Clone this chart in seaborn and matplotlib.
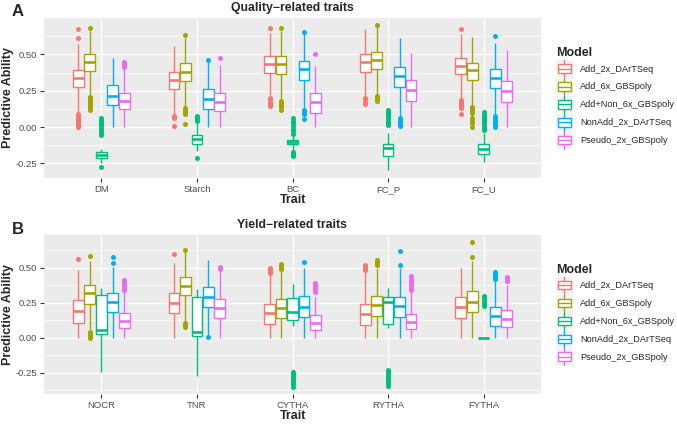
import numpy as np
import pandas as pd
import matplotlib
matplotlib.use("Agg")
import matplotlib.pyplot as plt
import seaborn as sns
from matplotlib.lines import Line2D
from matplotlib.patches import Patch, Rectangle
from matplotlib.legend_handler import HandlerBase
from matplotlib.ticker import FixedLocator, FormatStrFormatter

# ---- Daten ----
models = ["Add_2x_DArTSeq", "Add_6x_GBSpoly", "Add+Non_6x_GBSpoly",
          "NonAdd_2x_DArTSeq", "Pseudo_2x_GBSpoly"]
colors = ["#F8766D", "#A3A500", "#00BF7D", "#00B0F6", "#E76BF3"]

traits_quality = ["DM", "Starch", "BC", "FC_P", "FC_U"]
traits_yield = ["NOCR", "TNR", "CYTHA", "RYTHA", "FYTHA"]
y_ticks = [-0.25, 0.0, 0.25, 0.50]
y_minor = [-0.375, -0.125, 0.125, 0.375, 0.625]

# Zeilen = Merkmale, Spalten = Modelle
q1_quality = [[0.275, 0.385, -0.211, 0.149, 0.122],
              [0.259, 0.317, -0.115, 0.126, 0.110],
              [0.374, 0.367, -0.119, 0.323, 0.099],
              [0.381, 0.397, -0.200, 0.275, 0.179],
              [0.362, 0.321, -0.183, 0.271, 0.174]]
med_quality = [[0.339, 0.450, -0.190, 0.216, 0.179],
               [0.323, 0.381, -0.085, 0.190, 0.174],
               [0.436, 0.436, -0.103, 0.397, 0.172],
               [0.447, 0.461, -0.147, 0.349, 0.257],
               [0.422, 0.390, -0.149, 0.339, 0.248]]
q3_quality = [[0.394, 0.500, -0.172, 0.287, 0.236],
              [0.381, 0.438, -0.055, 0.259, 0.236],
              [0.489, 0.489, -0.092, 0.454, 0.234],
              [0.500, 0.514, -0.115, 0.413, 0.326],
              [0.477, 0.440, -0.119, 0.397, 0.317]]
lo_quality = [[0.097, 0.213, -0.245, 0.000, 0.000],
              [0.080, 0.144, -0.165, 0.000, 0.000],
              [0.202, 0.184, -0.155, 0.133, 0.000],
              [0.206, 0.222, -0.296, 0.069, 0.000],
              [0.190, 0.144, -0.241, 0.082, 0.000]]
hi_quality = [[0.569, 0.660, -0.150, 0.477, 0.407],
              [0.557, 0.615, 0.030, 0.455, 0.425],
              [0.649, 0.660, -0.055, 0.638, 0.420],
              [0.672, 0.685, -0.040, 0.610, 0.511],
              [0.642, 0.618, -0.039, 0.580, 0.530]]
out_quality = [
    [[0.615, 0.674, 0.0, 0.01, 0.02, 0.03, 0.04, 0.05, 0.06, 0.07, 0.08, 0.09],
     [0.68, 0.12, 0.13, 0.14, 0.15, 0.16, 0.17, 0.18, 0.19, 0.20, 0.21],
     [-0.272, -0.055, -0.04, -0.025, -0.01, 0.005, 0.02, 0.035, 0.05, 0.064],
     [],
     [0.41, 0.42, 0.43, 0.44, 0.447]],
    [[0.007, 0.065, 0.07, 0.074],
     [0.633, 0.018, 0.087, 0.095, 0.105, 0.115, 0.125, 0.13],
     [-0.21, 0.04, 0.05, 0.06, 0.07, 0.076],
     [0.461],
     [0.477]],
    [[0.683, 0.145, 0.16, 0.175, 0.19, 0.2],
     [0.683, 0.12, 0.135, 0.15, 0.165, 0.18],
     [-0.2, -0.19, -0.18, -0.17, -0.048, -0.03, -0.01, 0.01, 0.03, 0.045, 0.06],
     [0.656, 0.053, 0.087, 0.1, 0.11, 0.12],
     [0.5]],
    [[0.16, 0.175, 0.19, 0.2],
     [0.70, 0.18, 0.19, 0.2, 0.215],
     [0.015, 0.03, 0.045, 0.06, 0.075, 0.09, 0.105, 0.12],
     [0.007, 0.02, 0.035, 0.05, 0.06],
     []],
    [[0.672, 0.092, 0.133, 0.145, 0.16, 0.175, 0.185],
     [0.0, 0.03, 0.045, 0.064, 0.099, 0.11, 0.125, 0.14],
     [-0.02, -0.005, 0.01, 0.025, 0.04, 0.055, 0.07, 0.085, 0.106],
     [0.628, 0.0, 0.015, 0.03, 0.045, 0.06, 0.076],
     []],
]

q1_yield = [[0.110, 0.246, 0.028, 0.185, 0.068],
            [0.178, 0.305, 0.014, 0.221, 0.141],
            [0.103, 0.141, 0.127, 0.150, 0.059],
            [0.094, 0.155, 0.100, 0.148, 0.061],
            [0.143, 0.183, 0.000, 0.085, 0.077]]
med_yield = [[0.192, 0.322, 0.059, 0.258, 0.122],
             [0.251, 0.373, 0.040, 0.293, 0.216],
             [0.176, 0.216, 0.185, 0.221, 0.108],
             [0.171, 0.235, 0.258, 0.225, 0.113],
             [0.223, 0.258, 0.000, 0.155, 0.136]]
q3_yield = [[0.268, 0.380, 0.310, 0.322, 0.176],
            [0.322, 0.434, 0.293, 0.364, 0.279],
            [0.246, 0.279, 0.286, 0.298, 0.164],
            [0.246, 0.300, 0.289, 0.293, 0.171],
            [0.293, 0.333, 0.000, 0.218, 0.202]]
lo_yield = [[0.000, 0.052, -0.242, 0.000, 0.000],
            [0.000, 0.122, -0.270, 0.016, 0.000],
            [0.000, 0.000, 0.087, 0.000, 0.000],
            [0.000, 0.000, 0.070, 0.000, 0.000],
            [0.000, 0.000, 0.000, 0.000, 0.000]]
hi_yield = [[0.486, 0.549, 0.357, 0.509, 0.338],
            [0.538, 0.615, 0.352, 0.556, 0.480],
            [0.450, 0.479, 0.387, 0.502, 0.293],
            [0.474, 0.500, 0.359, 0.500, 0.336],
            [0.500, 0.547, 0.000, 0.417, 0.376]]
out_yield = [
    [[0.563], [0.587, 0.0, 0.01, 0.02, 0.03, 0.04], [], [0.533, 0.58],
     [0.345, 0.36, 0.375, 0.39, 0.405, 0.415]],
    [[0.596], [0.63, 0.075, 0.085, 0.095, 0.11], [], [0.005], [0.49, 0.5, 0.509]],
    [[0.465, 0.475, 0.485, 0.495, 0.502], [0.49, 0.5, 0.51, 0.52, 0.526],
     [-0.347, -0.33, -0.315, -0.3, -0.285, -0.27, -0.255, -0.242], [0.545],
     [0.325, 0.34, 0.355, 0.37, 0.385, 0.392]],
    [[0.484, 0.495, 0.505, 0.515, 0.523], [0.52, 0.53, 0.54, 0.55, 0.559],
     [-0.345, -0.33, -0.315, -0.3, -0.285, -0.27, -0.255, -0.24, -0.228],
     [0.523, 0.622], [0.343, 0.36, 0.375, 0.39, 0.405, 0.42, 0.441]],
    [[], [0.577, 0.683], [0.23, 0.245, 0.26, 0.275, 0.29, 0.30],
     [0.42, 0.435, 0.45, 0.46, 0.472], [0.406, 0.415, 0.425, 0.437]],
]


def box_sample(q1, med, q3, lo, hi, out):
    # Stichprobe bauen, deren Quartile genau q1/med/q3 sind
    iqr = q3 - q1
    lo = max(lo, q1 - 1.5 * iqr)
    hi = min(hi, q3 + 1.5 * iqr)
    low = sorted(o for o in out if o < q1)
    high = sorted(o for o in out if o > q3)
    m = max(len(low), len(high)) + 2
    x = [q1] * m + [q1] + [med] * (m - 1) + [med] + [q3] * (m - 1) + [q3] + [q3] * m
    x[:len(low)] = low
    x[len(low)] = lo
    x[4 * m - len(high)] = hi
    if high:
        x[4 * m - len(high) + 1:] = high
    return x


def build_frame(traits, q1, med, q3, lo, hi, out):
    rows = []
    for i, t in enumerate(traits):
        for j, mdl in enumerate(models):
            for v in box_sample(q1[i][j], med[i][j], q3[i][j], lo[i][j], hi[i][j], out[i][j]):
                rows.append({"Trait": t, "Model": mdl, "value": v})
    return pd.DataFrame(rows)


class BoxKey(HandlerBase):
    # Legendenschluessel im ggplot-Stil: kleine Box mit Median und Whiskern
    def create_artists(self, legend, orig_handle, xdescent, ydescent,
                       width, height, fontsize, trans):
        c = orig_handle.get_edgecolor()
        x0, y0 = -xdescent, -ydescent
        bg = Rectangle((x0, y0), width, height, facecolor="#F2F2F2",
                       edgecolor="none", transform=trans)
        xm = x0 + width / 2
        w1 = Line2D([xm, xm], [y0 + height * 0.75, y0 + height], color=c, lw=1.0, transform=trans)
        w2 = Line2D([xm, xm], [y0, y0 + height * 0.25], color=c, lw=1.0, transform=trans)
        bx = Rectangle((x0 + width * 0.1, y0 + height * 0.25), width * 0.8, height * 0.5,
                       facecolor="white", edgecolor=c, lw=1.0, transform=trans)
        md = Line2D([x0 + width * 0.1, x0 + width * 0.9], [y0 + height / 2] * 2,
                    color=c, lw=1.0, transform=trans)
        return [bg, w1, w2, bx, md]


sns.set_theme(style="darkgrid", rc={"axes.facecolor": "#EBEBEB", "grid.color": "white"})
plt.rcParams["font.family"] = ["Liberation Sans", "DejaVu Sans"]
plt.rcParams["axes.unicode_minus"] = False

W, H = 677, 425
fig = plt.figure(figsize=(W / 100, H / 100), dpi=100)


def fx(px):
    return px / W


def fy(py):
    return 1 - py / H


def draw_panel(top, bottom, traits, q1, med, q3, lo, hi, out, ylim, letter, title):
    ax = fig.add_axes([fx(44), fy(bottom), fx(541) - fx(44), fy(top) - fy(bottom)])
    df = build_frame(traits, q1, med, q3, lo, hi, out)
    sns.boxplot(data=df, x="Trait", y="value", hue="Model", order=traits,
                hue_order=models, palette=colors, width=0.6, gap=0.06,
                showcaps=False, linewidth=1.0, legend=False,
                flierprops=dict(marker="o", markersize=3.6),
                medianprops=dict(linewidth=1.9), ax=ax)
    for cont, col in zip(ax.containers, colors):
        for b in cont.boxes:
            b.set_facecolor("white")
            b.set_edgecolor(col)
        for ln in list(cont.medians) + list(cont.whiskers):
            ln.set_color(col)
        for f in cont.fliers:
            f.set_markerfacecolor(col)
            f.set_markeredgecolor(col)
            f.set_markeredgewidth(0)
    ax.set_xlim(-0.6, len(traits) - 0.4)
    ax.set_ylim(*ylim)
    ax.yaxis.set_major_locator(FixedLocator(y_ticks))
    ax.yaxis.set_minor_locator(FixedLocator(y_minor))
    ax.yaxis.set_major_formatter(FormatStrFormatter("%.2f"))
    ax.grid(True, which="major", color="white", lw=1.0)
    ax.grid(True, which="minor", axis="y", color="white", lw=0.5)
    ax.set_axisbelow(True)
    for s in ax.spines.values():
        s.set_visible(False)
    ax.tick_params(axis="both", which="major", bottom=True, left=True, length=3,
                   width=0.8, color="#333333", labelcolor="#4D4D4D", labelsize=6.8, pad=2)
    ax.tick_params(axis="y", which="minor", left=False)
    ax.set_xlabel("")
    ax.set_ylabel("")
    mid = (top + bottom) / 2
    fig.text(fx(8), fy(mid), "Predictive Ability", rotation=90, ha="center",
             va="center", fontsize=9, fontweight="bold")
    fig.text(fx(293), fy(bottom + 22), "Trait", ha="center", va="center",
             fontsize=9, fontweight="bold")
    fig.text(fx(292), fy(top - 10), title, ha="center", va="center",
             fontsize=8.8, fontweight="bold")
    fig.text(fx(18), fy(top - 6), letter, ha="center", va="center",
             fontsize=12, fontweight="bold")
    handles = [Patch(facecolor="white", edgecolor=c) for c in colors]
    leg = fig.legend(handles, models, loc="center left",
                     bbox_to_anchor=(fx(556), fy(mid)), frameon=False,
                     title="Model", fontsize=6.6, handler_map={Patch: BoxKey()},
                     handlelength=1.85, handleheight=2.47, labelspacing=0.1,
                     handletextpad=0.8, borderpad=0, borderaxespad=0,
                     alignment="left")
    leg.get_title().set_fontsize(9)
    leg.get_title().set_fontweight("bold")
    return ax


draw_panel(18, 178, traits_quality, q1_quality, med_quality, q3_quality,
           lo_quality, hi_quality, out_quality, (-0.35, 0.75), "A",
           "Quality\u2212related traits")
draw_panel(235, 394, traits_yield, q1_yield, med_yield, q3_yield,
           lo_yield, hi_yield, out_yield, (-0.40, 0.735), "B",
           "Yield\u2212related traits")

fig.savefig("out.png", dpi=100)
